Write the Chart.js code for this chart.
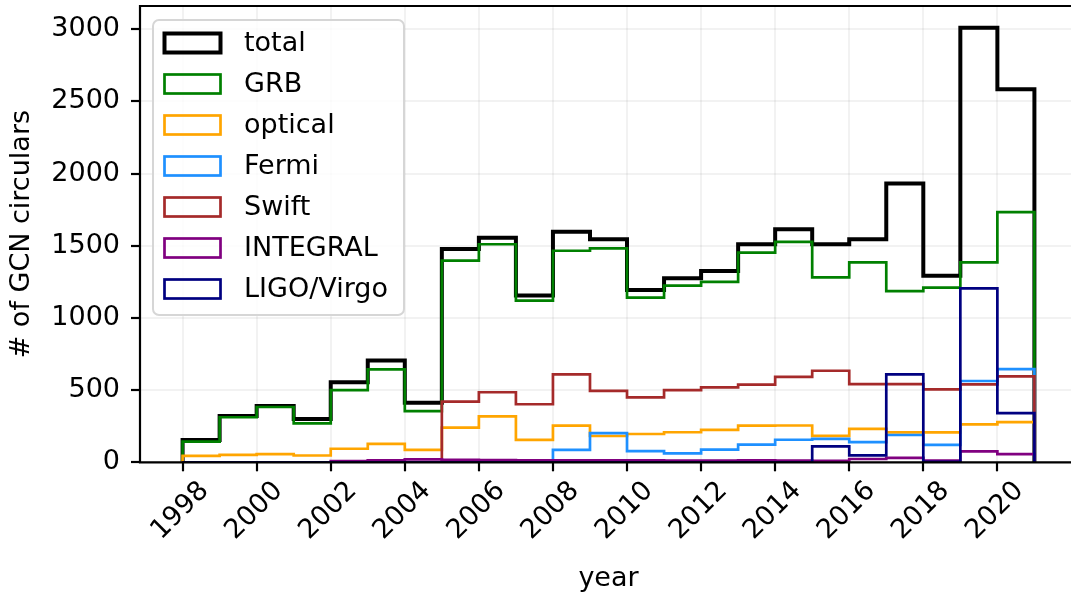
<!DOCTYPE html>
<html><head><meta charset="utf-8">
<script src="https://cdn.jsdelivr.net/npm/chart.js@4.4.1/dist/chart.umd.min.js"></script>
<style>
html,body{margin:0;padding:0;background:#fff;overflow:hidden;width:1071px;height:592px}
#wrap{position:absolute;left:0;top:0;width:1077px;height:592px}
</style>
</head><body><div id="wrap"><canvas id="c" width="1077" height="592"></canvas></div>
<script>
// ---- data (counts per year bin [year, year+1)) ----
const years    = [1998,1999,2000,2001,2002,2003,2004,2005,2006,2007,2008,2009,2010,2011,2012,2013,2014,2015,2016,2017,2018,2019,2020];
const total    = [155,320,390,300,555,705,413,1478,1555,1155,1597,1544,1193,1274,1325,1510,1614,1510,1544,1930,1292,3010,2583];
const grb      = [143,312,383,270,500,644,355,1396,1510,1119,1465,1482,1140,1223,1249,1452,1526,1281,1385,1186,1209,1385,1733];
const optical  = [44,52,56,47,94,128,86,240,318,155,254,182,196,208,225,254,255,183,231,207,207,263,278];
const fermi    = [0,0,0,0,0,0,0,0,0,0,86,202,77,62,88,122,156,162,140,189,121,563,645];
const swift    = [0,0,0,0,0,0,0,420,485,402,609,494,450,500,519,538,591,634,542,542,505,540,595];
const integral = [0,0,0,0,8,14,20,17,15,14,14,14,14,12,12,14,12,10,23,30,12,75,57];
const ligo     = [0,0,0,0,0,0,0,0,0,0,0,0,0,0,0,0,0,110,48,609,3,1205,341];
const seriesNames = ['total','GRB','optical','Fermi','Swift','INTEGRAL','LIGO/Virgo'];
const yTicks = [0,500,1000,1500,2000,2500,3000];
const xTicks = [1998,2000,2002,2004,2006,2008,2010,2012,2014,2016,2018,2020];

// ---- styles ----
const seriesValues = [total, grb, optical, fermi, swift, integral, ligo];
const colors = ['#000000','#008000','#FFA500','#1E90FF','#A52A2A','#800080','#000080'];
const widths = [4,2.7,2.7,2.7,2.7,2.7,2.7];
const FONT = '"DejaVu Sans", sans-serif';
const FS = 27;

function stepPoints(vals){
  const pts = [{x: years[0], y: 0}];
  for (let i = 0; i < years.length; i++) pts.push({x: years[i], y: vals[i]});
  const end = years[years.length-1] + 1;
  pts.push({x: end, y: vals[vals.length-1]});
  pts.push({x: end, y: 0});
  return pts;
}

// dataset index 0 is drawn on top, so reverse (LIGO on top, total at bottom)
const datasets = seriesNames.map((name, i) => ({
  label: name,
  data: stepPoints(seriesValues[i]),
  borderColor: colors[i],
  backgroundColor: 'rgba(0,0,0,0)',
  borderWidth: widths[i],
  stepped: true,
  pointRadius: 0,
  fill: false,
  borderJoinStyle: 'miter',
  borderCapStyle: 'butt',
  tension: 0
})).reverse();

const framePlugin = {
  id: 'frame',
  afterDatasetsDraw(chart){
    const {ctx, chartArea: a} = chart;
    ctx.save();
    ctx.strokeStyle = '#000';
    ctx.lineWidth = 2.2;
    ctx.lineCap = 'square';
    ctx.beginPath();
    ctx.moveTo(a.left, a.bottom); ctx.lineTo(a.right, a.bottom);
    ctx.moveTo(a.left, a.bottom); ctx.lineTo(a.left, a.top);
    ctx.lineTo(a.right, a.top);
    ctx.stroke();
    ctx.restore();
  }
};

const legendPlugin = {
  id: 'boxLegend',
  afterDraw(chart){
    const ctx = chart.ctx;
    const bx = 153, by = 20, bw = 251, bh = 295, r = 6;
    ctx.save();
    ctx.beginPath();
    ctx.moveTo(bx + r, by);
    ctx.arcTo(bx + bw, by, bx + bw, by + bh, r);
    ctx.arcTo(bx + bw, by + bh, bx, by + bh, r);
    ctx.arcTo(bx, by + bh, bx, by, r);
    ctx.arcTo(bx, by, bx + bw, by, r);
    ctx.closePath();
    ctx.fillStyle = 'rgba(255,255,255,0.8)';
    ctx.fill();
    ctx.strokeStyle = '#d6d6d6';
    ctx.lineWidth = 2;
    ctx.stroke();
    ctx.font = FS + 'px ' + FONT;
    ctx.textBaseline = 'middle';
    ctx.textAlign = 'left';
    seriesNames.forEach((name, i) => {
      const cy = 43 + i * 41;
      ctx.strokeStyle = colors[i];
      ctx.lineWidth = widths[i];
      ctx.lineJoin = 'miter';
      ctx.strokeRect(164.5, cy - 9.5, 56, 19);
      ctx.fillStyle = '#000';
      ctx.fillText(name, 244, cy + 1);
    });
    ctx.restore();
  }
};

Chart.defaults.font.family = FONT;
Chart.defaults.color = '#000';

new Chart(document.getElementById('c'), {
  type: 'line',
  data: { datasets },
  options: {
    responsive: false,
    animation: false,
    devicePixelRatio: 1,
    layout: { padding: { top: 6, left: 0, right: 0, bottom: 0 } },
    plugins: { legend: { display: false }, tooltip: { enabled: false } },
    scales: {
      x: {
        type: 'linear',
        min: 1996.85,
        max: 2022.15,
        afterBuildTicks: s => { s.ticks = xTicks.map(v => ({value: v})); },
        afterFit: s => { s.height = 129.7; s.paddingLeft = 0; s.paddingRight = 0; },
        border: { display: false },
        grid: { color: 'rgba(0,0,0,0.05)', lineWidth: 2, tickColor: '#000', tickWidth: 2.2, tickLength: 9 },
        ticks: {
          font: { size: FS },
          maxRotation: 45, minRotation: 45,
          autoSkip: false,
          padding: 4,
          labelOffset: 22,
          callback: v => String(v)
        },
        title: { display: true, text: 'year', font: { size: FS }, padding: { top: 0, bottom: -3 } }
      },
      y: {
        type: 'linear',
        min: 0,
        max: 3160,
        afterBuildTicks: s => { s.ticks = yTicks.map(v => ({value: v})); },
        afterFit: s => { s.width = 140; s.paddingTop = 0; s.paddingBottom = 0; },
        border: { display: false },
        grid: { color: 'rgba(0,0,0,0.05)', lineWidth: 2, tickColor: '#000', tickWidth: 2.2, tickLength: 9 },
        ticks: { font: { size: FS }, padding: 11, callback: v => String(v) },
        title: { display: true, text: '# of GCN circulars', font: { size: FS }, padding: { top: 6, bottom: 0 } }
      }
    }
  },
  plugins: [framePlugin, legendPlugin]
});
</script>
</body></html>
